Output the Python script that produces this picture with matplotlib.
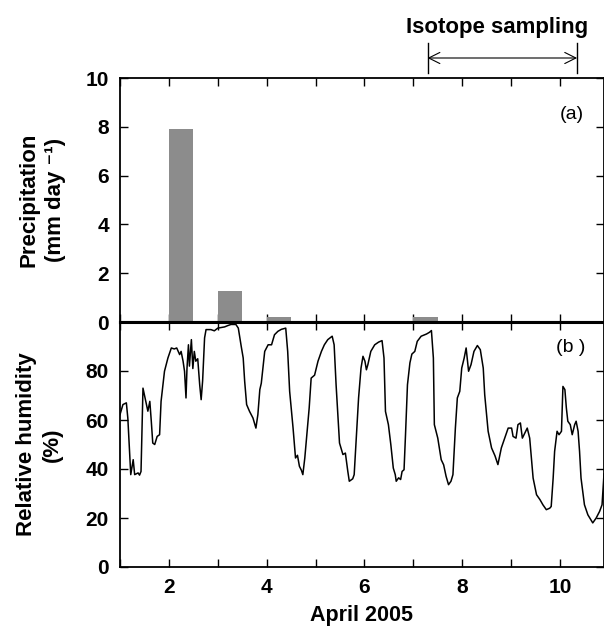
import matplotlib.pyplot as plt
import matplotlib.transforms as mtransforms

plt.rcParams['font.family'] = ['Liberation Sans', 'DejaVu Sans']

# daily precipitation (bar left edge, mm/day)
rain_day = [2.0, 3.0, 4.0, 7.0]
rain_mm = [7.9, 1.27, 0.2, 0.2]

# relative humidity trace
rh_day = [1.00, 1.06, 1.13, 1.16, 1.22, 1.27, 1.30, 1.37, 1.40, 1.43, 1.47, 1.54, 1.57, 1.61,
          1.64, 1.67, 1.71, 1.76, 1.81, 1.84, 1.91, 1.98, 2.05, 2.11, 2.16, 2.22, 2.25, 2.29,
          2.32, 2.35, 2.37, 2.40, 2.42, 2.46, 2.49, 2.52, 2.55, 2.59, 2.63, 2.66, 2.69, 2.73,
          2.76, 2.86, 2.93, 3.00, 3.14, 3.20, 3.27, 3.37, 3.42, 3.48, 3.52, 3.55, 3.59, 3.65,
          3.72, 3.78, 3.82, 3.86, 3.89, 3.96, 4.03, 4.10, 4.16, 4.23, 4.30, 4.39, 4.43, 4.47,
          4.54, 4.59, 4.63, 4.67, 4.71, 4.74, 4.78, 4.81, 4.87, 4.91, 4.98, 5.05, 5.12, 5.18,
          5.25, 5.34, 5.38, 5.42, 5.46, 5.49, 5.56, 5.61, 5.66, 5.69, 5.76, 5.79, 5.83, 5.88,
          5.93, 5.97, 6.01, 6.04, 6.07, 6.13, 6.21, 6.29, 6.36, 6.40, 6.43, 6.49, 6.54, 6.59,
          6.63, 6.65, 6.70, 6.74, 6.77, 6.81, 6.84, 6.88, 6.93, 6.97, 7.03, 7.08, 7.16, 7.27,
          7.33, 7.37, 7.41, 7.43, 7.50, 7.57, 7.62, 7.67, 7.72, 7.77, 7.81, 7.86, 7.90, 7.95,
          7.99, 8.04, 8.08, 8.13, 8.18, 8.24, 8.31, 8.37, 8.43, 8.46, 8.53, 8.60, 8.67, 8.73,
          8.80, 8.87, 8.94, 9.01, 9.04, 9.10, 9.14, 9.19, 9.23, 9.28, 9.33, 9.38, 9.45, 9.52,
          9.59, 9.65, 9.72, 9.79, 9.82, 9.86, 9.89, 9.94, 9.98, 10.03, 10.06, 10.10, 10.13,
          10.16, 10.21, 10.25, 10.30, 10.33, 10.37, 10.40, 10.43, 10.50, 10.57, 10.61, 10.67,
          10.74, 10.81, 10.86, 10.90]
rh_pct = [62.2, 66.3, 67.0, 60.8, 37.7, 43.8, 37.7, 38.4, 37.5, 39.0, 73.0, 66.3, 63.6, 67.6,
          59.5, 50.6, 50.0, 53.3, 54.0, 67.6, 79.9, 85.3, 89.4, 89.0, 89.4, 86.7, 88.0, 84.0,
          79.9, 69.0, 81.0, 90.7, 82.0, 92.8, 81.0, 88.0, 84.0, 85.0, 74.4, 68.3, 76.0, 93.5,
          96.9, 96.9, 96.4, 97.5, 98.0, 98.5, 99.0, 99.0, 97.5, 90.0, 85.3, 75.8, 66.3, 63.5,
          60.8, 56.7, 62.2, 72.4, 75.0, 88.0, 90.7, 90.7, 94.8, 96.2, 97.0, 97.5, 88.0, 71.7,
          56.7, 44.5, 45.6, 41.1, 39.5, 37.7, 44.5, 51.3, 65.0, 77.1, 78.3, 84.0, 88.0, 90.7,
          92.8, 94.2, 90.7, 74.4, 60.8, 50.6, 45.9, 46.5, 39.0, 35.0, 36.0, 37.7, 51.3, 69.0,
          81.2, 86.0, 84.0, 80.5, 82.6, 88.0, 90.7, 91.8, 92.4, 85.3, 63.5, 58.1, 49.9, 40.4,
          37.7, 35.0, 36.4, 35.7, 39.0, 39.7, 54.0, 74.4, 83.3, 86.9, 88.0, 92.1, 94.2, 95.1,
          95.8, 96.5, 85.3, 58.1, 52.6, 43.8, 41.7, 37.0, 33.6, 35.0, 37.7, 56.7, 69.0, 71.7,
          81.2, 85.3, 89.4, 79.9, 82.6, 88.0, 90.4, 88.7, 81.2, 70.3, 55.4, 48.6, 45.4, 41.8,
          48.6, 52.6, 56.7, 56.7, 53.3, 52.6, 58.1, 58.8, 52.6, 54.6, 56.7, 52.6, 36.3, 29.5,
          27.5, 25.4, 23.4, 24.0, 24.7, 36.3, 47.2, 55.4, 54.0, 55.4, 73.7, 72.4, 64.9,
          59.5, 58.1, 54.0, 58.1, 59.5, 55.4, 47.2, 36.3, 25.4, 21.3, 20.0, 18.0,
          20.0, 22.7, 25.4, 38.0]

fig = plt.figure(figsize=(6.04, 6.32), dpi=100)
left, right = 120 / 604, 1.0
ax1 = fig.add_axes([left, 1 - 322 / 632, right - left, (322 - 78) / 632])
ax2 = fig.add_axes([left, 1 - 567 / 632, right - left, (567 - 322) / 632], sharex=ax1)

# (a) precipitation
ax1.bar(rain_day, rain_mm, width=0.5, align='edge', color='#8c8c8c', zorder=2)
ax1.set_ylim(0, 10)
ax1.set_yticks([0, 2, 4, 6, 8, 10])
ax1.set_ylabel('Precipitation\n(mm day ⁻¹)', fontsize=16, fontweight='bold', linespacing=1.3)
ax1.yaxis.set_label_coords(-0.112, 0.5)
ax1.text(10.24, 8.5, '(a)', fontsize=14, ha='center', va='center')
ax1.tick_params(axis='x', labelbottom=False)

# (b) relative humidity
ax2.plot(rh_day, rh_pct, color='black', lw=1.1)
ax2.set_ylim(0, 100)
ax2.set_yticks([0, 20, 40, 60, 80])
ax2.set_ylabel('Relative humidity\n(%)', fontsize=16, fontweight='bold', linespacing=1.3)
ax2.yaxis.set_label_coords(-0.118, 0.5)
ax2.text(10.22, 89.4, '(b )', fontsize=14, ha='center', va='center')
ax2.set_xlim(1, 10.9)
ax2.set_xticks(range(1, 11))
ax2.set_xticklabels(['' if d % 2 else str(d) for d in range(1, 11)])
ax2.set_xlabel('April 2005', fontsize=15.5, fontweight='bold', labelpad=6)

for ax in (ax1, ax2):
    ax.tick_params(direction='in', top=True, right=True, length=6, width=1.0,
                   labelsize=15, pad=8)
    for lab in ax.get_xticklabels() + ax.get_yticklabels():
        lab.set_fontweight('bold')
    for s in ax.spines.values():
        s.set_linewidth(1.3)
ax1.spines['bottom'].set_linewidth(2.2)
ax2.spines['top'].set_linewidth(2.2)

# isotope sampling period
trans = mtransforms.blended_transform_factory(ax1.transData, fig.transFigure)
x0, x1 = 7.29, 10.35
ax1.annotate('', xy=(x0, 1 - 58 / 632), xytext=(x1, 1 - 58 / 632), xycoords=trans,
             textcoords=trans, annotation_clip=False,
             arrowprops=dict(arrowstyle='<->', lw=0.8, mutation_scale=20,
                             shrinkA=0, shrinkB=0, color='black'))
for xx in (x0, x1):
    ax1.plot([xx, xx], [1 - 43 / 632, 1 - 73 / 632], transform=trans, color='black',
             lw=1.0, clip_on=False)
ax1.text((x0 + x1) / 2 - 0.1, 1 - 27 / 632, 'Isotope sampling', transform=trans,
         fontsize=16, fontweight='bold', ha='center', va='center')

fig.savefig('out.png', dpi=100)
